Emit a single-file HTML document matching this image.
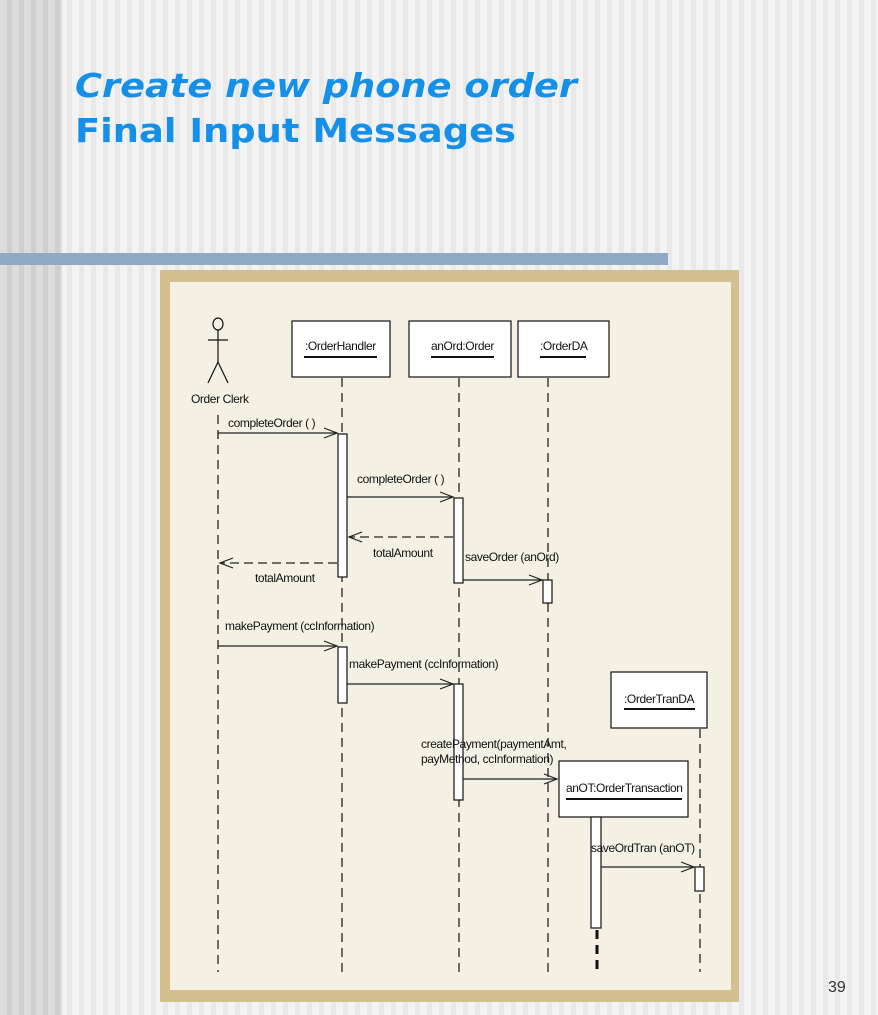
<!DOCTYPE html>
<html><head><meta charset="utf-8"><style>
html,body{margin:0;padding:0;width:878px;height:1015px;overflow:hidden;}
body{background:repeating-linear-gradient(90deg,#f3f3f3 0 7px,#e9e9e9 7px 12px);}
svg{position:absolute;left:0;top:0;}
.t{font-family:"Liberation Sans",sans-serif;font-size:12px;fill:#111;letter-spacing:-0.4px;}
</style></head><body>
<svg width="878" height="1015" xmlns="http://www.w3.org/2000/svg">
<defs>
<pattern id="lp" width="12" height="10" patternUnits="userSpaceOnUse"><rect width="7" height="10" fill="#dcdcdc"/><rect x="7" width="5" height="10" fill="#cfcfcf"/></pattern>
</defs>
<rect x="0" y="0" width="62" height="1015" fill="url(#lp)"/>
<text x="75" y="97" font-family="DejaVu Sans,sans-serif" font-weight="bold" font-style="italic" font-size="33" fill="#1590e8" textLength="502" lengthAdjust="spacingAndGlyphs">Create new phone order</text>
<text x="75" y="142" font-family="DejaVu Sans,sans-serif" font-weight="bold" font-size="33" fill="#1590e8" textLength="441" lengthAdjust="spacingAndGlyphs">Final Input Messages</text>
<rect x="0" y="253" width="668" height="12" fill="#90a9c5"/>
<rect x="160" y="270" width="579" height="732" fill="#d4c08e"/>
<rect x="170" y="282" width="561" height="708" fill="#f4f0e4"/>
<g stroke="#111" fill="none" stroke-width="1.2">
<!-- actor -->
<ellipse cx="218" cy="324" rx="5" ry="6"/>
<line x1="218" y1="330" x2="218" y2="362"/>
<line x1="208" y1="340" x2="228" y2="340"/>
<line x1="218" y1="362" x2="208" y2="383"/>
<line x1="218" y1="362" x2="228" y2="383"/>
<!-- lifelines -->
<g stroke-dasharray="9,6">
<line x1="218" y1="415" x2="218" y2="972"/>
<line x1="342" y1="378" x2="342" y2="972"/>
<line x1="459" y1="378" x2="459" y2="972"/>
<line x1="548" y1="378" x2="548" y2="972"/>
<line x1="700" y1="729" x2="700" y2="972"/>
<line x1="597" y1="930" x2="597" y2="972" stroke-width="3"/>
</g>
</g>
<g stroke="#111" fill="#fff" stroke-width="1.2">
<rect x="292" y="321" width="98" height="56"/>
<rect x="409" y="321" width="102" height="56"/>
<rect x="518" y="321" width="91" height="56"/>
<rect x="611" y="672" width="96" height="56"/>
<rect x="559" y="761" width="129" height="56"/>
<rect x="338" y="434" width="9" height="143"/>
<rect x="454" y="498" width="9" height="85"/>
<rect x="543" y="580" width="9" height="23"/>
<rect x="338" y="647" width="9" height="56"/>
<rect x="454" y="684" width="9" height="116"/>
<rect x="591" y="817" width="10" height="111"/>
<rect x="695" y="867" width="9" height="24"/>
</g>
<g stroke="#111" stroke-width="2">
<line x1="304" y1="357" x2="377" y2="357"/>
<line x1="431" y1="357" x2="494" y2="357"/>
<line x1="540" y1="357" x2="586" y2="357"/>
<line x1="624" y1="709" x2="695" y2="709"/>
<line x1="566" y1="799" x2="682" y2="799"/>
</g>
<g stroke="#222" stroke-width="1.2" fill="none">
<line x1="218" y1="433" x2="337" y2="433"/><polyline points="324,428 337,433 324,438"/>
<line x1="347" y1="497" x2="453" y2="497"/><polyline points="440,492 453,497 440,502"/>
<line x1="453" y1="537" x2="349" y2="537" stroke-dasharray="9,5"/><polyline points="362,532 349,537 362,542"/>
<line x1="337" y1="563" x2="220" y2="563" stroke-dasharray="9,5"/><polyline points="233,558 220,563 233,568"/>
<line x1="463" y1="580" x2="542" y2="580"/><polyline points="529,575 542,580 529,585"/>
<line x1="218" y1="646" x2="337" y2="646"/><polyline points="324,641 337,646 324,651"/>
<line x1="347" y1="684" x2="453" y2="684"/><polyline points="440,679 453,684 440,689"/>
<line x1="463" y1="779" x2="557" y2="779"/><polyline points="544,774 557,779 544,784"/>
<line x1="601" y1="867" x2="694" y2="867"/><polyline points="681,862 694,867 681,872"/>
</g>
<g class="t">
<text x="191" y="403">Order Clerk</text>
<text x="305" y="350">:OrderHandler</text>
<text x="431" y="350">anOrd:Order</text>
<text x="540" y="350">:OrderDA</text>
<text x="624" y="703">:OrderTranDA</text>
<text x="566" y="792">anOT:OrderTransaction</text>
<text x="228" y="427">completeOrder ( )</text>
<text x="357" y="483">completeOrder ( )</text>
<text x="373" y="557">totalAmount</text>
<text x="255" y="582">totalAmount</text>
<text x="465" y="561">saveOrder (anOrd)</text>
<text x="225" y="630">makePayment (ccInformation)</text>
<text x="349" y="668">makePayment (ccInformation)</text>
<text x="421" y="748">createPayment(paymentAmt,</text>
<text x="421" y="763">payMethod, ccInformation)</text>
<text x="591" y="852">saveOrdTran (anOT)</text>
</g>
<text x="828" y="992" font-family="Liberation Sans,sans-serif" font-size="16" fill="#333">39</text>
</svg>
</body></html>
